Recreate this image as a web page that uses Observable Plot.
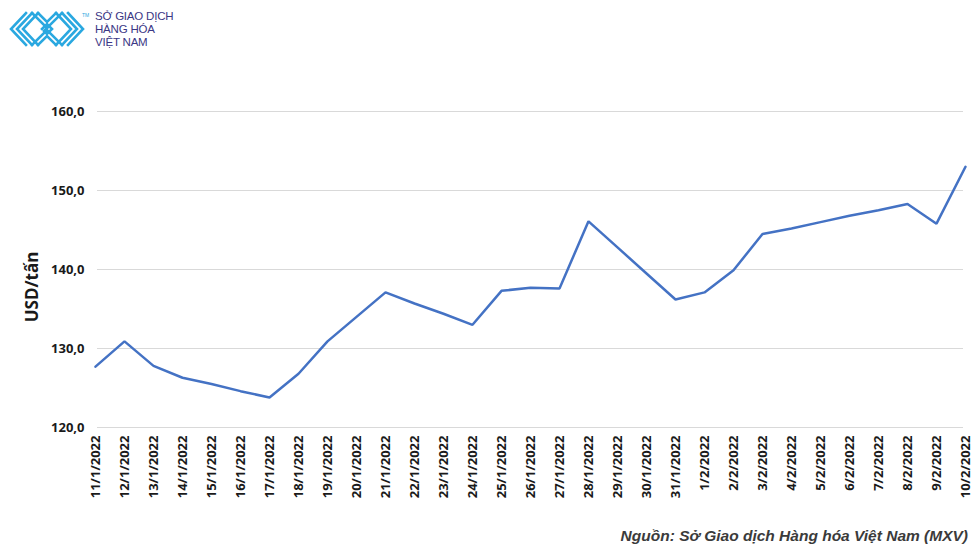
<!DOCTYPE html>
<html>
<head>
<meta charset="utf-8">
<script src="https://cdn.jsdelivr.net/npm/d3@7"></script>
<script src="https://cdn.jsdelivr.net/npm/@observablehq/plot@0.6"></script>
<style>
  html, body { margin: 0; padding: 0; background: #fff; }
  #wrap { position: relative; width: 980px; height: 551px; overflow: hidden; font-family: "Open Sans", sans-serif; }
  #chart { position: absolute; left: 0; top: 0; }
  #logo { position: absolute; left: 9px; top: 11px; }
  #brand { position: absolute; left: 95px; top: 10px; color: #3b3785; font-family: "Liberation Sans", Arial, sans-serif; font-size: 11.5px; line-height: 13px; letter-spacing: -0.2px; }
  #tm { position: absolute; left: 82px; top: 12px; font-size: 5px; color: #2aa8e0; font-family: "Liberation Sans", Arial, sans-serif; }
  #ytitle { position: absolute; left: 31px; top: 287px; transform: translate(-50%, -50%) rotate(-90deg); font-weight: 700; font-size: 17px; color: #1a1a1a; white-space: nowrap; }
  #source { position: absolute; right: 12px; top: 527px; font-family: "Liberation Sans", Arial, sans-serif; font-style: italic; font-weight: 700; font-size: 15.5px; color: #3b3b3b; }
</style>
</head>
<body>
<div id="wrap">
  <div id="chart"></div>
  <svg id="logo" width="76" height="36" viewBox="0 0 76 36">
    <g fill="none" stroke="#2aa8e0" stroke-width="2.6" stroke-linejoin="miter" stroke-linecap="square">
      <polyline points="17,2 2,18 17,34"/>
      <polyline points="23,2 8,18 23,34"/>
      <polyline points="29,2 14,18 29,34"/>
      <polyline points="23,2 38,17 53,2"/>
      <polyline points="29,2 38,11 47,2"/>
      <polyline points="23,34 38,19 53,34"/>
      <polyline points="29,34 38,25 47,34"/>
      <polyline points="33,18 38,13 43,18 38,23 35,20 38,17"/>
      <polyline points="47,2 62,18 47,34"/>
      <polyline points="53,2 68,18 53,34"/>
      <polyline points="59,2 74,18 59,34"/>
    </g>
  </svg>
  <div id="tm">TM</div>
  <div id="brand">SỞ GIAO DỊCH<br>HÀNG HÓA<br>VIỆT NAM</div>
  <div id="ytitle">USD/tấn</div>
  <div id="source">Nguồn: Sở Giao dịch Hàng hóa Việt Nam (MXV)</div>
</div>
<script>
const dates = ["11/1/2022","12/1/2022","13/1/2022","14/1/2022","15/1/2022","16/1/2022","17/1/2022","18/1/2022","19/1/2022","20/1/2022","21/1/2022","22/1/2022","23/1/2022","24/1/2022","25/1/2022","26/1/2022","27/1/2022","28/1/2022","29/1/2022","30/1/2022","31/1/2022","1/2/2022","2/2/2022","3/2/2022","4/2/2022","5/2/2022","6/2/2022","7/2/2022","8/2/2022","9/2/2022","10/2/2022"];
const prices = [127.7,130.9,127.8,126.3,125.5,124.6,123.8,126.8,130.9,134.0,137.1,135.7,134.4,133.0,137.3,137.7,137.6,146.1,142.8,139.5,136.2,137.1,139.9,144.5,145.2,146.0,146.8,147.5,148.3,145.8,153.0];
const yTicks = [120,130,140,150,160];

const data = dates.map((d, i) => ({date: d, price: prices[i]}));
const fmt = v => v.toFixed(1).replace(".", ",");

const W = 980, H = 551, ML = 97, MR = 17;
const left = ML, right = W - MR;

function build(xRange) {
  return Plot.plot({
    width: W,
    height: H,
    marginLeft: ML,
    marginRight: MR,
    marginTop: 111,
    marginBottom: 124,
    style: {fontFamily: "'Open Sans', sans-serif", color: "#1a1a1a", background: "transparent"},
    x: {type: "point", domain: dates, padding: 0, align: 0.5, label: null, ...(xRange ? {range: xRange} : {})},
    y: {domain: [120, 160], label: null},
    marks: [
      Plot.gridY(yTicks, {stroke: "#d9d9d9", strokeOpacity: 1, strokeWidth: 1}),
      Plot.axisY(yTicks, {tickSize: 0, tickPadding: 13, tickFormat: fmt, fontWeight: "bold", fontSize: 13, label: null}),
      Plot.axisX({tickSize: 0, tickPadding: 8, tickRotate: -90, fontWeight: "bold", fontSize: 13, label: null}),
      Plot.line(data, {x: "date", y: "price", stroke: "#4472c4", strokeWidth: 2.5, strokeLinejoin: "miter"})
    ]
  });
}

let chart = build(null);
try {
  const sx = chart.scale("x");
  const x0 = sx.apply(dates[0]);
  const off = x0 - left;
  if (Math.abs(off) > 0.5) {
    const n1 = dates.length - 1;
    const span = right - left;
    const p = n1 * off / (span - 2 * off);
    const step = span / n1;
    chart = build([left - step * p, right + step * p]);
  }
} catch (e) {}
document.getElementById("chart").appendChild(chart);
</script>
</body>
</html>
